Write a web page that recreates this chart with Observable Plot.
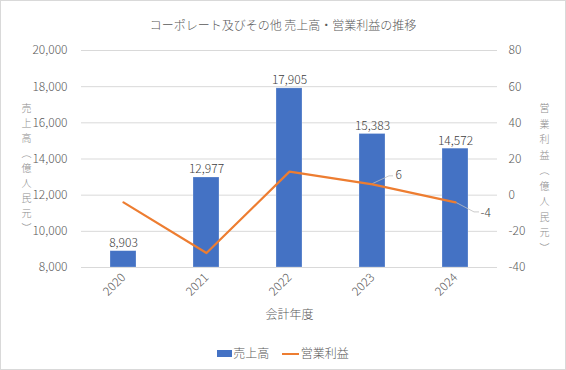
<!DOCTYPE html>
<html>
<head>
<meta charset="utf-8">
<script src="https://cdn.jsdelivr.net/npm/d3@7"></script>
<script src="https://cdn.jsdelivr.net/npm/@observablehq/plot@0.6"></script>
<style>
  html, body { margin: 0; padding: 0; background: #fff; }
  #wrap { position: relative; width: 566px; height: 370px; font-family: "Noto Sans CJK JP", "Noto Sans", sans-serif; font-weight: 300; color: #595959; }
  #border { position: absolute; left: 0; top: 0; width: 564px; height: 368px; border: 1px solid #d9d9d9; pointer-events: none; }
  #title { position: absolute; left: 0; width: 566px; top: 15px; text-align: center; font-size: 12px; line-height: 20px; color: #595959; }
  #legend { position: absolute; left: 0; width: 566px; top: 343px; text-align: center; font-size: 12px; line-height: 20px; color: #595959; }
  .sw { display: inline-block; vertical-align: middle; }
  #chart { position: absolute; left: 0; top: 0; }
  #chart svg text { font-weight: 300; }
</style>
</head>
<body>
<div id="wrap">
  <div id="chart"></div>
  <div id="title">コーポレート及びその他 売上高・営業利益の推移</div>
  <div id="legend">
    <span class="sw" style="width:15px;height:7px;background:#4472C4;margin-right:1px;position:relative;top:-1px"></span><span>売上高</span>
    <span class="sw" style="width:17px;height:2px;background:#ED7D31;margin-left:10px;margin-right:2px;position:relative;top:-1px"></span><span>営業利益</span>
  </div>
  <div id="border"></div>
</div>
<script>
// ---- data ----
const years = ["2020", "2021", "2022", "2023", "2024"];
const sales = [8903, 12977, 17905, 15383, 14572];        // 売上高（億人民元）
const profit = [-4, -32, 13, 6, -4];                      // 営業利益（億人民元）
const salesTicks = [8000, 10000, 12000, 14000, 16000, 18000, 20000];
const profitTicks = [-40, -20, 0, 20, 40, 60, 80];
const profitLabelYears = ["2023", "2024"];
const xLabel = "会計年度";
const leftLabel = "売上高（億人民元）";
const rightLabel = "営業利益（億人民元）";

// ---- dual axis mapping: profit -> sales scale ----
const sMin = salesTicks[0], sMax = salesTicks[salesTicks.length - 1];
const pMin = profitTicks[0], pMax = profitTicks[profitTicks.length - 1];
const toS = v => sMin + (v - pMin) * (sMax - sMin) / (pMax - pMin);
const fromS = s => pMin + (s - sMin) * (pMax - pMin) / (sMax - sMin);

const rows = years.map((yr, i) => ({year: yr, sales: sales[i], profit: profit[i], ps: toS(profit[i])}));
const labeled = rows.filter(d => profitLabelYears.includes(d.year));

const vert = s => s.replace("（", "︵").replace("）", "︶").split("").join("\n");

const fmt = d3.format(",");
const W = 566, H = 370;

const plot = Plot.plot({
  width: W, height: H,
  marginLeft: 81, marginRight: 69, marginTop: 50, marginBottom: 103,
  style: {fontFamily: '"Noto Sans CJK JP", "Noto Sans", sans-serif', fontSize: "12px", color: "#595959", background: "transparent"},
  x: {type: "band", domain: years, paddingInner: 0.69, paddingOuter: 0.345, align: 0.5},
  y: {domain: [sMin, sMax]},
  marks: [
    Plot.ruleY(salesTicks, {stroke: "#d9d9d9", strokeWidth: 1}),
    Plot.axisY(salesTicks, {anchor: "left", tickSize: 0, tickPadding: 14, tickFormat: fmt, label: null, fill: "#595959"}),
    Plot.axisY(profitTicks.map(toS), {anchor: "right", tickSize: 0, tickPadding: 11, tickFormat: s => String(Math.round(fromS(s))), label: null, fill: "#595959"}),
    Plot.axisX(years, {anchor: "bottom", tickSize: 0, tickPadding: 8, tickRotate: -45, label: null, fill: "#595959", fontSize: 12}),
    Plot.barY(rows, {x: "year", y1: sMin, y2: "sales", fill: "#4472C4", stroke: "#ffffff", strokeOpacity: 0.35, strokeWidth: 0.7}),
    Plot.text(rows, {x: "year", y: "sales", text: d => fmt(d.sales), lineAnchor: "bottom", dy: -4, fill: "#404040", fontSize: 12}),
    Plot.line(rows, {x: "year", y: "ps", stroke: "#ED7D31", strokeWidth: 2.2, strokeLinejoin: "round", strokeLinecap: "round"}),
    Plot.text(labeled, {x: "year", y: "ps", text: d => String(d.profit), textAnchor: "start", fill: "#404040", fontSize: 12,
      filter: d => d.year === "2023", dx: 23, dy: -9}),
    Plot.text(labeled, {x: "year", y: "ps", text: d => String(d.profit), textAnchor: "start", fill: "#404040", fontSize: 12,
      filter: d => d.year === "2024", dx: 25, dy: 11}),
    Plot.text([xLabel], {frameAnchor: "bottom", dy: 51, fill: "#595959", fontSize: 12}),
    Plot.text([vert(leftLabel)], {frameAnchor: "left", dx: -60, dy: 8, fill: "#8c8c8c", fontSize: 10, lineHeight: 1.5}),
    Plot.text([vert(rightLabel)], {frameAnchor: "right", dx: 52, dy: 18, fill: "#8c8c8c", fontSize: 10, lineHeight: 1.55})
  ]
});

// leader lines for the labelled line points, positioned through the plot's own scales
const xs = plot.scale("x"), ys = plot.scale("y");
const leaders = {"2023": [[17, -8], [21, -8]], "2024": [[19, 10], [24, 10]]};
const g = d3.select(plot).append("g").attr("fill", "none").attr("stroke", "#bfbfbf").attr("stroke-width", 0.8);
labeled.forEach(d => {
  const px = xs.apply(d.year) + xs.bandwidth / 2;
  const py = ys.apply(d.ps);
  const pts = [[px, py], ...leaders[d.year].map(([a, b]) => [px + a, py + b])];
  g.append("path").attr("d", d3.line()(pts));
});
// keep the orange line above the leaders
const lineEl = plot.querySelector('g[aria-label="line"]');
if (lineEl) plot.appendChild(lineEl);

document.getElementById("chart").appendChild(plot);
</script>
</body>
</html>
